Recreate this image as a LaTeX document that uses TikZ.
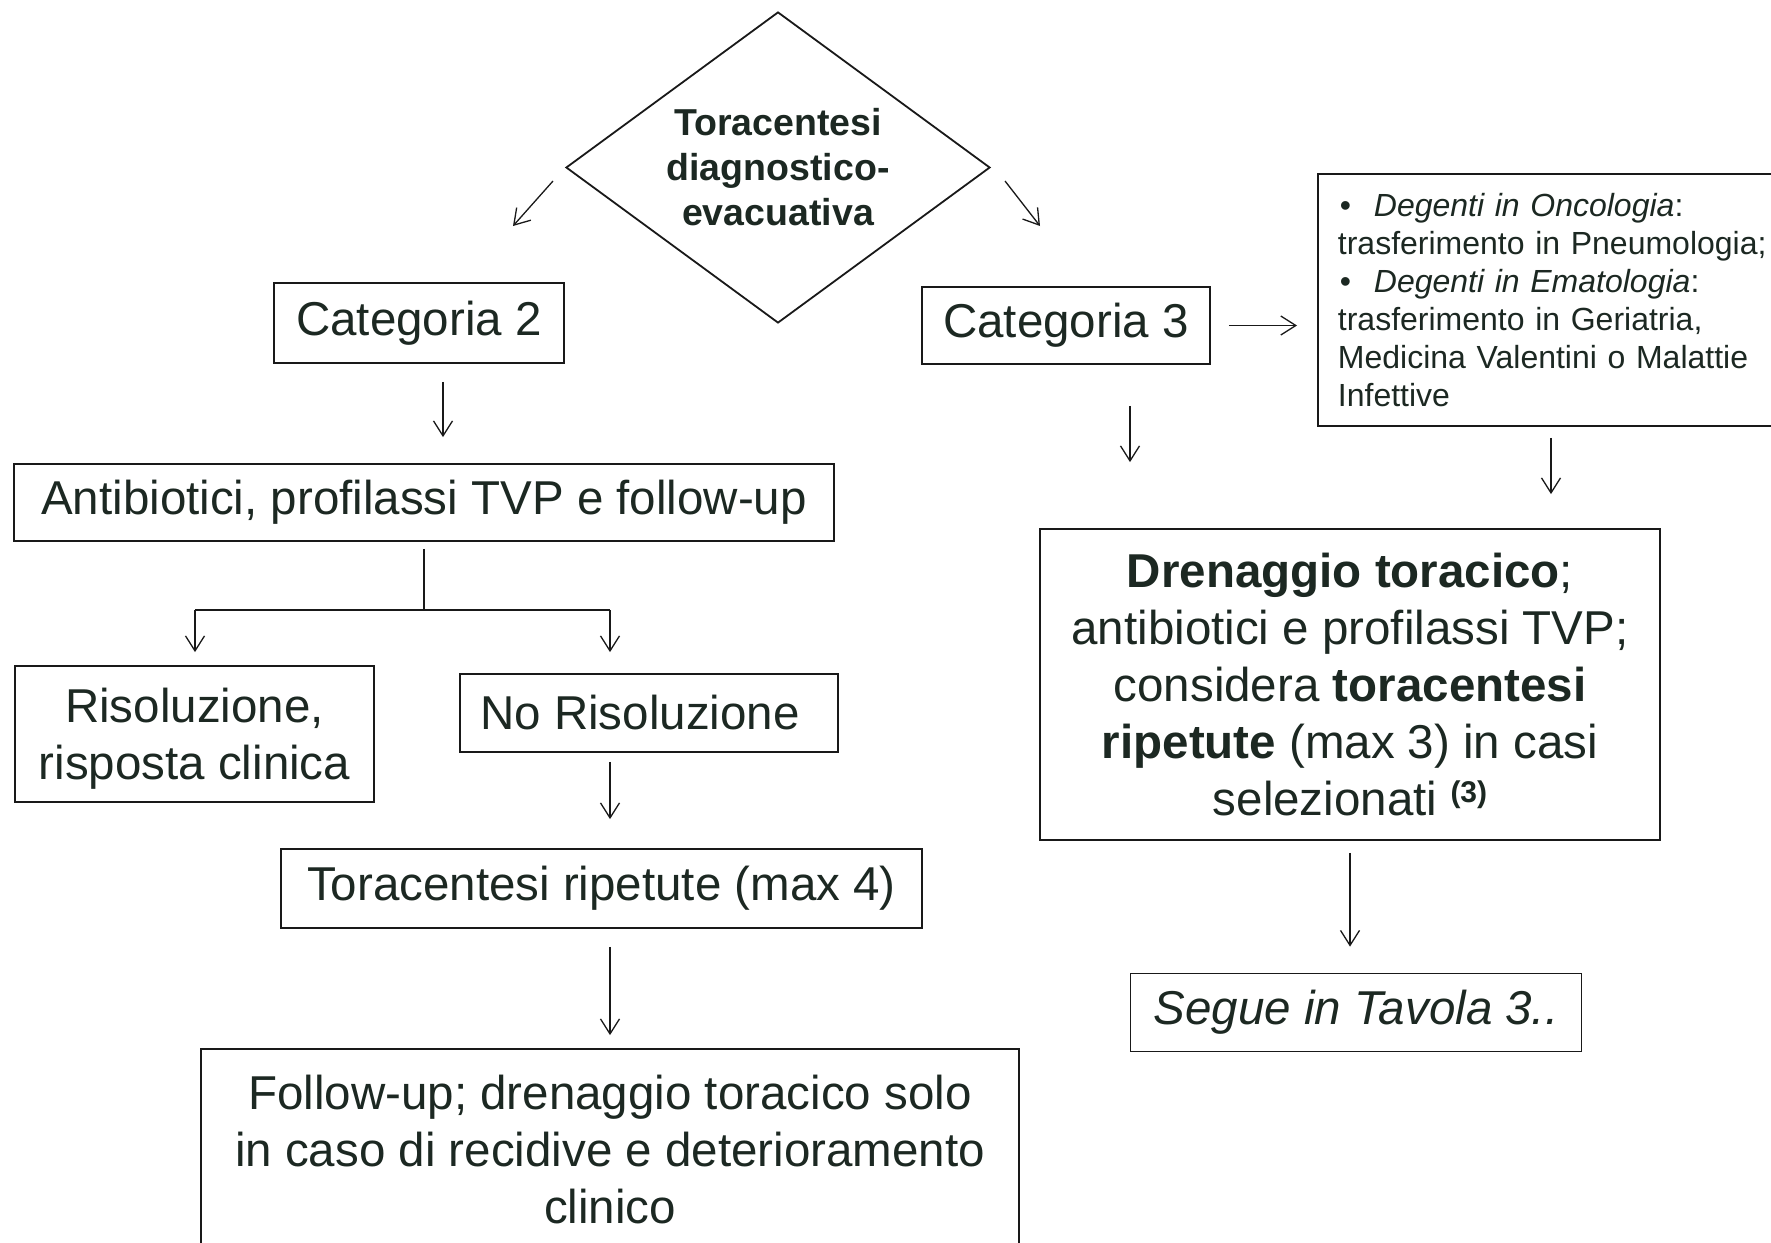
\documentclass[tikz,border=0pt]{standalone}
\usepackage{fontspec}
\setmainfont{Liberation Sans}
\usetikzlibrary{shapes.geometric,arrows.meta,calc}
\definecolor{ink}{RGB}{28,40,34}
\newcommand\flowbig{\fontsize{47.5}{57}\selectfont}
\newcommand\flowsmall{\fontsize{32}{38}\selectfont}
\begin{document}
\begin{tikzpicture}[x=1pt,y=-1pt,
  box/.style={draw=black!90,line width=1.8pt,inner sep=0pt,text=ink,font=\flowbig,align=center},
  arr/.style={draw=black!90,line width=1.3pt,-{Straight Barb[length=15pt,width=19pt,line width=1.3pt]}},
  ln/.style={draw=black!90,line width=1.3pt}]
\clip (0,0) rectangle (1771,1242);
\fill[white] (0,0) rectangle (1771,1242);

% nodes
\node[diamond,draw=black!90,line width=1.8pt,aspect=1.36,minimum width=424pt,minimum height=311pt,
      inner sep=0pt,align=center,text=ink,font=\fontsize{37.5}{45}\selectfont\bfseries]
      (dia) at (778,167.5) {Toracentesi\\diagnostico-\\evacuativa};

\node[box,minimum width=290pt,minimum height=80pt] (cat2) at (419,323) {Categoria 2};
\node[box,minimum width=288pt,minimum height=77pt] (cat3) at (1066,325.5) {Categoria 3};

\node[box,anchor=north west,font=\flowsmall,align=left,text width=440pt,inner xsep=20pt,
      minimum height=252pt] (rbox) at (1317,173)
  {\hspace*{2pt}\makebox[34pt][l]{•}\textit{Degenti in Oncologia}:\\
   trasferimento in Pneumologia;\\
   \hspace*{2pt}\makebox[34pt][l]{•}\textit{Degenti in Ematologia}:\\
   trasferimento in Geriatria,\\
   Medicina Valentini o Malattie\\
   Infettive};

\node[box,minimum width=820pt,minimum height=77pt] (anti) at (424,502.5)
  {Antibiotici, profilassi TVP e follow-up};
\node[box,minimum width=359pt,minimum height=136pt] (riso) at (194.5,734)
  {\rule{0pt}{43pt}Risoluzione,\\risposta clinica};
\node[box,minimum width=378pt,minimum height=78pt] (noris) at (649,713) {No Risoluzione\hspace*{18pt}};
\node[box,minimum width=641pt,minimum height=79pt] (torrip) at (601.5,888.5)
  {Toracentesi ripetute (max 4)};
\node[box,minimum width=818pt,minimum height=206pt] (fup) at (610,1152)
  {Follow-up; drenaggio toracico solo\\in caso di recidive e deterioramento\\clinico\rule[-6pt]{0pt}{6pt}};

\node[box,minimum width=620pt,minimum height=311pt] (dren) at (1350,684.5)
  {\textbf{Drenaggio toracico};\\
   antibiotici e profilassi TVP;\\
   considera \textbf{toracentesi}\\
   \textbf{ripetute} (max 3) in casi\\
   selezionati \raisebox{13pt}{\fontsize{30}{30}\selectfont\bfseries(3)}};
\node[box,minimum width=451pt,minimum height=78pt,font=\flowbig\itshape] (segue) at (1356,1012.5)
  {Segue in Tavola 3..};

% coordinates for free ends and columns
\coordinate (dlA) at (553,181);
\coordinate (dlB) at (513,226);
\coordinate (drA) at (1005,181);
\coordinate (drB) at (1040,226);
\coordinate (c2x) at (443,0);
\coordinate (colx) at (610,0);
\coordinate (c3x) at (1130,0);
\coordinate (rbx) at (1551,0);
\coordinate (br) at (424,610);
\coordinate (brL) at (195,610);
\coordinate (brR) at (610,610);

% connectors
\draw[arr] (dlA) -- (dlB);
\draw[arr] (drA) -- (drB);
\draw[arr,shorten <=18pt,shorten >=20pt] (cat3.east) -- (cat3.east -| rbox.west);
\draw[arr,shorten <=18pt,shorten >=26pt] (cat2.south -| c2x) -- (anti.north -| c2x);
\draw[ln,shorten <=7pt] (anti.south) -- (br);
\draw[ln] (brL) -- (brR);
\draw[arr,shorten >=13pt] (brL) -- (brL |- riso.north);
\draw[arr,shorten >=21pt] (brR) -- (brR |- noris.north);
\draw[arr,shorten <=9pt,shorten >=29pt] (noris.south -| colx) -- (torrip.north -| colx);
\draw[arr,shorten <=18pt,shorten >=13pt] (torrip.south -| colx) -- (fup.north -| colx);
\draw[arr,shorten <=41pt,shorten >=66pt] (cat3.south -| c3x) -- (dren.north -| c3x);
\draw[arr,shorten <=11pt,shorten >=34pt] (rbox.south -| rbx) -- (dren.north -| rbx);
\draw[arr,shorten <=12pt,shorten >=26pt] (dren.south) -- (segue.north -| dren.south);
\end{tikzpicture}
\end{document}
